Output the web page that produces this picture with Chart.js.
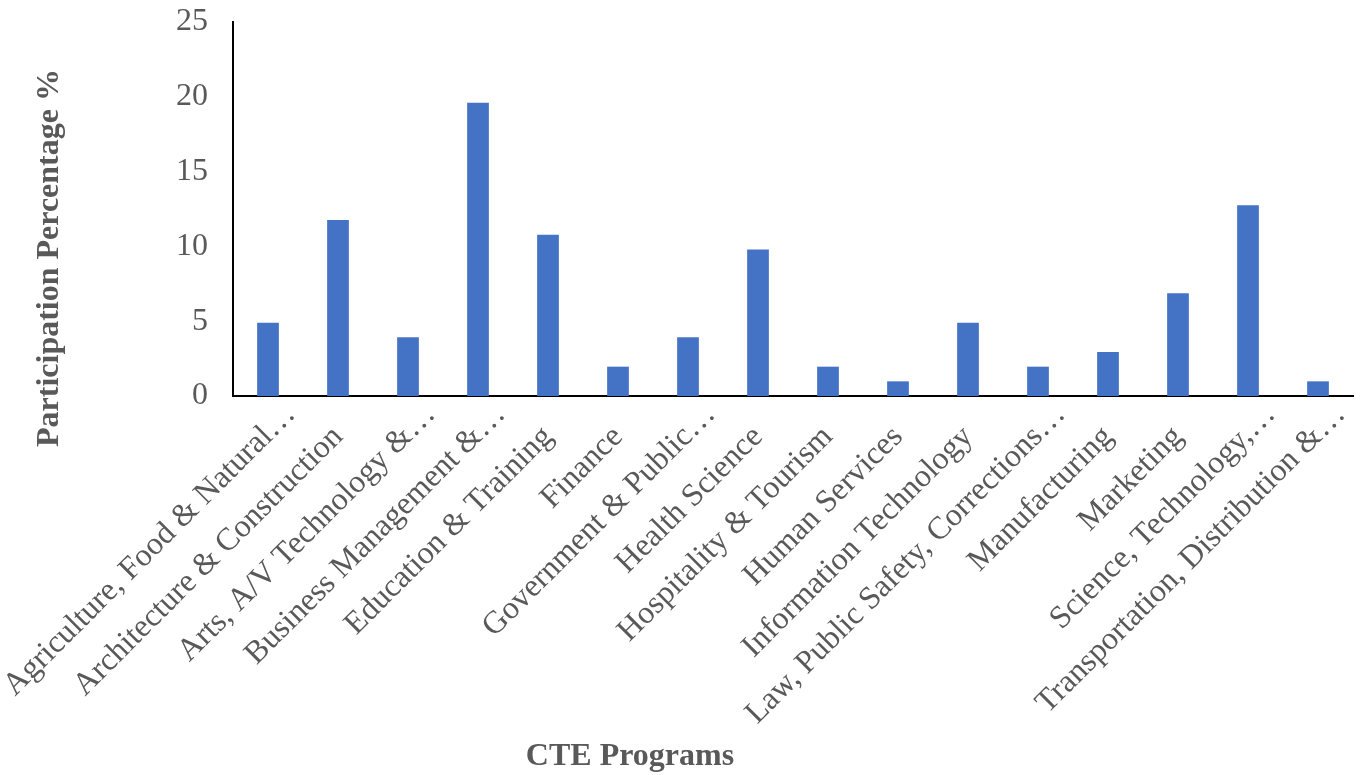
<!DOCTYPE html>
<html>
<head>
<meta charset="utf-8">
<script src="https://cdn.jsdelivr.net/npm/chart.js@4/dist/chart.umd.min.js"></script>
<style>
  html, body { margin: 0; padding: 0; background: #fff; }
  #wrap { width: 1363px; height: 775px; }
</style>
</head>
<body>
<div id="wrap"><canvas id="cteChart"></canvas></div>
<script>
// DATA

const programs = [
  "Agriculture, Food & Natural\u2026",
  "Architecture & Construction",
  "Arts, A/V Technology &\u2026",
  "Business Management &\u2026",
  "Education & Training",
  "Finance",
  "Government & Public\u2026",
  "Health Science",
  "Hospitality & Tourism",
  "Human Services",
  "Information Technology",
  "Law, Public Safety, Corrections\u2026",
  "Manufacturing",
  "Marketing",
  "Science, Technology,\u2026",
  "Transportation, Distribution &\u2026"
];

const participation = [4.9, 11.76, 3.92, 19.61, 10.78, 1.96, 3.92, 9.8, 1.96, 0.98, 4.9, 1.96, 2.94, 6.86, 12.75, 0.98];

const yTicks = [0, 5, 10, 15, 20, 25];

const xTitle = "CTE Programs";
const yTitle = "Participation Percentage %";

// STYLE

const FONT = "'Liberation Serif', 'Times New Roman', serif";
const TEXT_GREY = "#595959";
const BAR_BLUE = "#4472C4";
const ELLIPSIS = "\u2026";

// Slanted category labels: right end sits on the tick, a trailing ellipsis hangs past it
const slantedLabels = {
  id: "slantedLabels",
  afterDraw(chart) {
    const scale = chart.scales.x;
    const ctx = chart.ctx;
    ctx.save();
    ctx.fillStyle = TEXT_GREY;
    ctx.font = "32px " + FONT;
    ctx.textAlign = "right";
    ctx.textBaseline = "middle";
    const hang = ctx.measureText(ELLIPSIS).width;
    scale.ticks.forEach((tick, i) => {
      const label = chart.data.labels[i];
      ctx.save();
      ctx.translate(scale.getPixelForTick(i), scale.top + 36);
      ctx.rotate(-Math.PI / 4);
      ctx.fillText(label, label.endsWith(ELLIPSIS) ? hang : 0, 0);
      ctx.restore();
    });
    ctx.restore();
  }
};

// Axis titles
const axisTitles = {
  id: "axisTitles",
  afterDraw(chart) {
    const ctx = chart.ctx;
    ctx.save();
    ctx.fillStyle = TEXT_GREY;
    ctx.font = "bold 32px " + FONT;
    ctx.textAlign = "center";
    ctx.textBaseline = "middle";
    ctx.fillText(xTitle, 630, 757);

    ctx.translate(50, 258);
    ctx.rotate(-Math.PI / 2);
    ctx.fillText(yTitle, 0, 0);
    ctx.restore();
  }
};

// CHART

const ctx = document.getElementById("cteChart").getContext("2d");

new Chart(ctx, {
  type: "bar",
  data: {
    labels: programs,
    datasets: [{
      label: "Participation",
      data: participation,
      backgroundColor: BAR_BLUE,
      borderWidth: 0,
      categoryPercentage: 1,
      barPercentage: 0.31
    }]
  },
  options: {
    responsive: true,
    maintainAspectRatio: false,
    animation: false,
    devicePixelRatio: 1,
    layout: {
      padding: { top: 22, right: 10, bottom: 0, left: 0 }
    },
    plugins: {
      legend: { display: false },
      tooltip: { enabled: false },
      title: { display: false }
    },
    scales: {
      x: {
        grid: { display: false, drawTicks: false },
        border: { display: true, color: "#000", width: 2 },
        ticks: { display: false, autoSkip: false },
        afterFit(scale) {
          scale.height = 379;
          scale.paddingLeft = 0;
          scale.paddingRight = 0;
        }
      },
      y: {
        min: 0,
        max: 25,
        grid: { display: false, drawTicks: false },
        border: { display: true, color: "#000", width: 2 },
        afterBuildTicks(scale) {
          scale.ticks = yTicks.map(v => ({ value: v }));
        },
        ticks: {
          padding: 25,
          color: TEXT_GREY,
          font: { family: FONT, size: 32 }
        },
        afterFit(scale) {
          scale.width = 233;
          scale.paddingTop = 0;
          scale.paddingBottom = 0;
        }
      }
    }
  },
  plugins: [slantedLabels, axisTitles]
});
</script>
</body>
</html>
